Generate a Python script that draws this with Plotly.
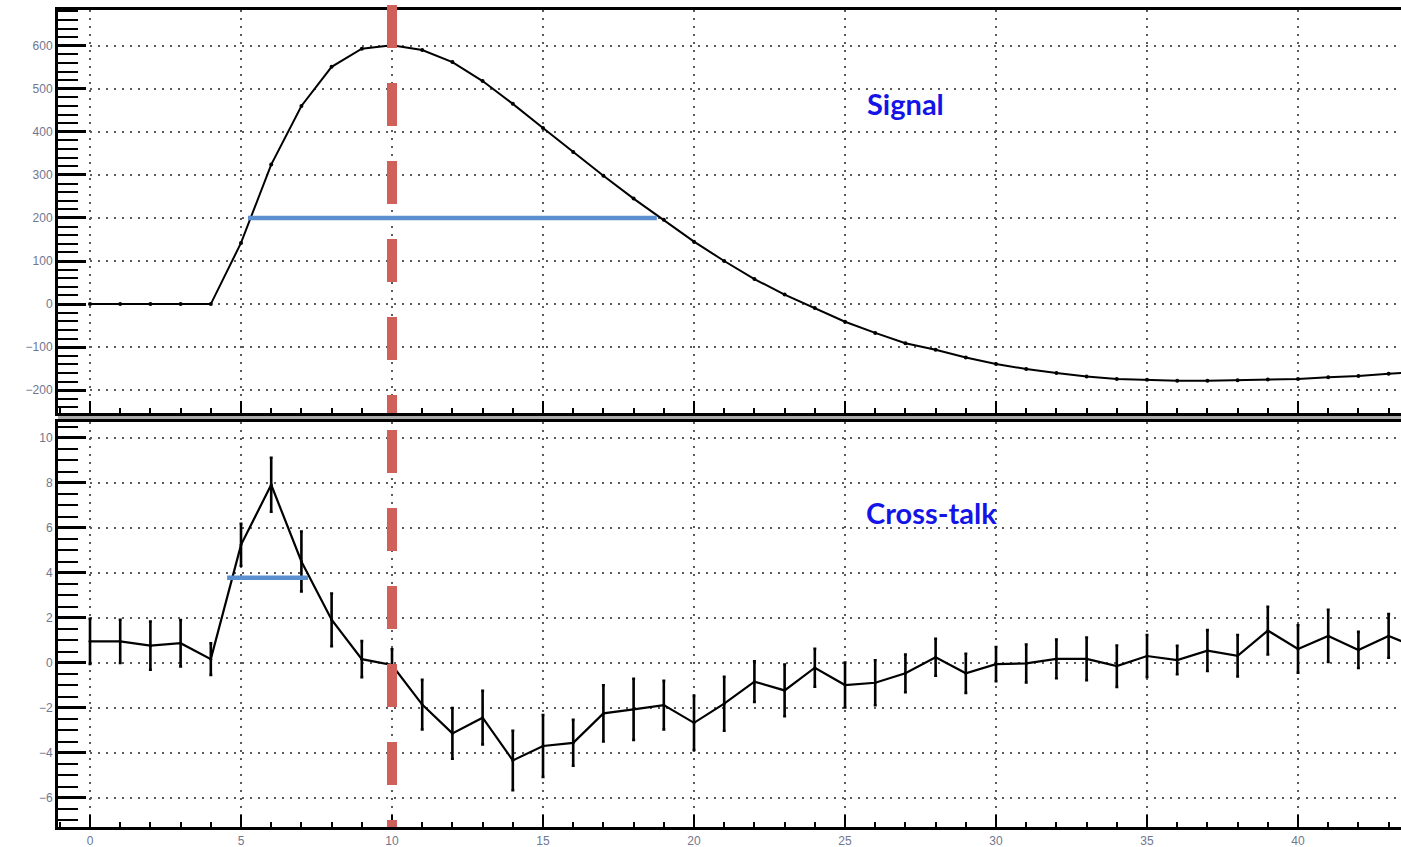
import plotly.graph_objects as go

# Sample index (time bins)
signal_x = list(range(0, 45))
signal_y = [0, 0, 0, 0, 0, 142, 324, 460, 551, 593, 601, 590, 562, 518, 465,
            409, 353, 298, 245, 196, 145, 100, 58, 22, -9, -41, -67, -91, -106,
            -124, -139, -151, -160, -168, -174, -176, -178, -178, -177, -175,
            -174, -170, -167, -162, -158]

xtalk_x = list(range(0, 45))
xtalk_y = [0.95, 0.95, 0.76, 0.87, 0.16, 5.24, 7.91, 4.5, 1.91, 0.16, -0.1,
           -1.86, -3.14, -2.44, -4.34, -3.7, -3.56, -2.25, -2.07, -1.88, -2.67,
           -1.82, -0.84, -1.23, -0.22, -0.99, -0.89, -0.47, 0.24, -0.47, -0.06,
           -0.03, 0.17, 0.17, -0.15, 0.3, 0.12, 0.54, 0.31, 1.43, 0.61, 1.19,
           0.57, 1.19, 0.65]
xtalk_err = [1.0, 0.96, 1.07, 1.03, 0.7, 0.93, 1.2, 1.33, 1.17, 0.8, 0.7,
             1.1, 1.13, 1.19, 1.32, 1.37, 1.02, 1.25, 1.36, 1.08, 1.2, 1.2,
             0.9, 1.15, 0.84, 1.0, 1.0, 0.84, 0.82, 0.87, 0.76, 0.84, 0.86,
             0.95, 0.92, 0.93, 0.63, 0.91, 0.92, 1.06, 1.05, 1.16, 0.8, 0.97,
             0.9]

# Width markers
signal_width_x = [5.23, 18.77]
signal_width_y = [200, 200]
xtalk_width_x = [4.54, 7.22]
xtalk_width_y = [3.78, 3.78]

# Peak time marker
peak_x = 10

x_ticks = [0, 5, 10, 15, 20, 25, 30, 35, 40]
top_ticks = [-200, -100, 0, 100, 200, 300, 400, 500, 600]
bottom_ticks = [-6, -4, -2, 0, 2, 4, 6, 8, 10]

W, H = 1401, 847
M_L, M_R, M_T, M_B = 58, 0, 10, 20
plot_h = H - M_T - M_B


def py2paper(py):
    return (H - M_B - py) / plot_h


top_domain = [py2paper(413), 1.0]
bottom_domain = [0.0, py2paper(422)]

label_font = dict(family="Liberation Sans, Arial, sans-serif", size=12, color="#6f7690")
grid_style = dict(showgrid=True, gridcolor="#5a5a5a", gridwidth=1.6, griddash="2px,6px")
title_font = dict(family="Lato, Open Sans, sans-serif", size=29, color="#1414e6")
peak_line = dict(color="#d0605a", width=10, dash="43px,35px")

fig = go.Figure()

fig.add_trace(go.Scatter(
    x=signal_x, y=signal_y, mode="lines+markers",
    line=dict(color="black", width=2), marker=dict(color="black", size=4),
    xaxis="x2", yaxis="y2", showlegend=False, cliponaxis=True,
))
fig.add_trace(go.Scatter(
    x=signal_width_x, y=signal_width_y, mode="lines",
    line=dict(color="#5b8fcf", width=4.5),
    xaxis="x2", yaxis="y2", showlegend=False,
))
fig.add_trace(go.Scatter(
    x=xtalk_x, y=xtalk_y, mode="lines+markers",
    line=dict(color="black", width=2.2), marker=dict(color="black", size=3),
    error_y=dict(type="data", array=xtalk_err, color="black", thickness=2.6, width=1.5),
    xaxis="x", yaxis="y", showlegend=False,
))
fig.add_trace(go.Scatter(
    x=xtalk_width_x, y=xtalk_width_y, mode="lines",
    line=dict(color="#5b8fcf", width=4.5),
    xaxis="x", yaxis="y", showlegend=False,
))

x_range = [-1.06, 43.41]
common_x = dict(
    range=x_range, tickvals=x_ticks, ticks="inside", ticklen=12, tickwidth=2,
    tickcolor="black", showline=True, linecolor="black", linewidth=3, mirror=True,
    zeroline=False,
    minor=dict(dtick=1, ticks="inside", ticklen=5, tickwidth=1.5, tickcolor="black",
               showgrid=False),
    **grid_style,
)

fig.update_layout(
    width=W, height=H,
    margin=dict(l=M_L, r=M_R, t=M_T, b=M_B),
    paper_bgcolor="white", plot_bgcolor="white",
    xaxis=dict(anchor="y", domain=[0, 1], tickfont=label_font, ticklabelstandoff=1,
               **common_x),
    xaxis2=dict(anchor="y2", domain=[0, 1], showticklabels=False, **common_x),
    yaxis=dict(
        anchor="x", domain=bottom_domain, range=[-7.3, 10.7], tickvals=bottom_ticks,
        ticks="inside", ticklen=28, tickwidth=2.5, tickcolor="black",
        showline=True, linecolor="black", linewidth=3, zeroline=False,
        tickfont=label_font,
        minor=dict(dtick=0.5, ticks="inside", ticklen=20, tickwidth=2.2,
                   tickcolor="black", showgrid=False),
        **grid_style,
    ),
    yaxis2=dict(
        anchor="x2", domain=top_domain, range=[-253, 683], tickvals=top_ticks,
        ticks="inside", ticklen=28, tickwidth=2.5, tickcolor="black",
        showline=True, linecolor="black", linewidth=3, zeroline=False,
        tickfont=label_font,
        minor=dict(dtick=20, ticks="inside", ticklen=20, tickwidth=2.2,
                   tickcolor="black", showgrid=False),
        **grid_style,
    ),
    annotations=[
        dict(x=27.0, y=467, xref="x2", yref="y2", text="<b>Signal</b>",
             showarrow=False, font=title_font),
        dict(x=27.85, y=6.7, xref="x", yref="y", text="<b>Cross-talk</b>",
             showarrow=False, font=title_font),
    ],
    shapes=[
        # separator band between the two pads
        dict(type="rect", xref="paper", yref="paper", x0=0, x1=1,
             y0=py2paper(421), y1=py2paper(414), fillcolor="#ababab",
             line=dict(width=0), layer="below"),
        # vertical dashed line at the signal peak, one segment per pad
        dict(type="line", xref="x", yref="paper", x0=peak_x, x1=peak_x,
             y0=py2paper(5), y1=py2paper(413), line=peak_line, layer="above"),
        dict(type="line", xref="x", yref="paper", x0=peak_x, x1=peak_x,
             y0=py2paper(430), y1=py2paper(827), line=peak_line, layer="above"),
    ],
)

fig.write_html("out.html")
